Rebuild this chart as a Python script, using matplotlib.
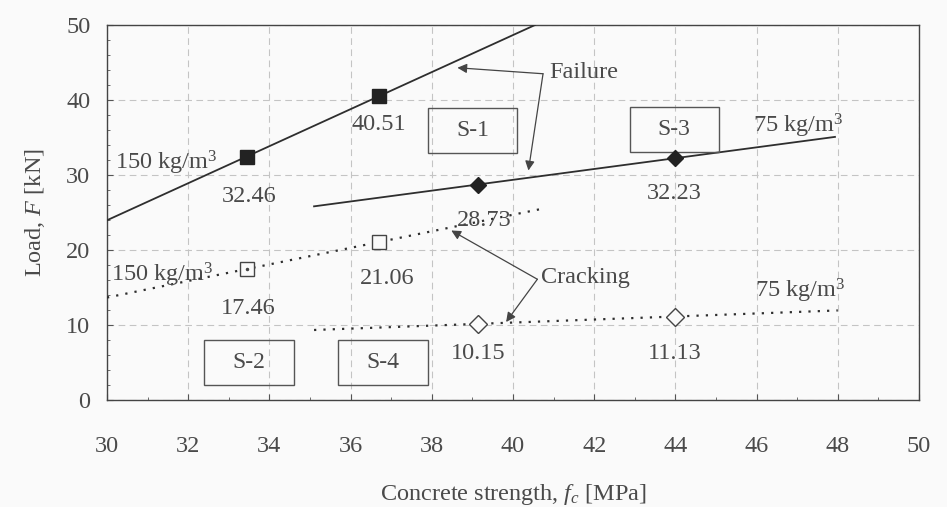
import numpy as np
import matplotlib
matplotlib.use("Agg")
import matplotlib.pyplot as plt
from matplotlib.patches import Rectangle

# Concrete strength (MPa) and measured loads (kN)
fc_150 = [33.44, 36.70]
fail_150 = [32.46, 40.51]
crack_150 = [17.46, 21.06]

fc_75 = [39.13, 43.98]
fail_75 = [28.73, 32.23]
crack_75 = [10.15, 11.13]

x_ticks = [30, 32, 34, 36, 38, 40, 42, 44, 46, 48, 50]
y_ticks = [0, 10, 20, 30, 40, 50]

plt.rcParams["font.family"] = ["Liberation Serif", "DejaVu Serif"]
plt.rcParams["mathtext.fontset"] = "custom"
plt.rcParams["mathtext.rm"] = "Liberation Serif"
plt.rcParams["mathtext.it"] = "Liberation Serif:italic"

TXT = "#4a4a4a"
LINE = "#2e2e2e"
BG = "#fafafa"
FS = 17.5

fig = plt.figure(figsize=(9.47, 5.07), dpi=100, facecolor=BG)
ax = fig.add_axes([107 / 947, 1 - 400 / 507, 812 / 947, 375 / 507])
ax.set_facecolor(BG)
ax.set_xlim(30, 50)
ax.set_ylim(0, 50)


def trend(xs, ys, x0, x1):
    k, b = np.polyfit(xs, ys, 1)
    xx = np.array([x0, x1])
    return xx, k * xx + b


# Failure trend lines
xx, yy = trend(fc_150, fail_150, 30, 40.54)
ax.plot(xx, yy, color=LINE, lw=1.3, zorder=3)
xx, yy = trend(fc_75, fail_75, 35.1, 47.93)
ax.plot(xx, yy, color=LINE, lw=1.3, zorder=3)

# Cracking trend lines
dots = (0, (1, 3.2))
xx, yy = trend(fc_150, crack_150, 30, 40.67)
ax.plot(xx, yy, color=LINE, lw=1.6, linestyle=dots, zorder=3)
xx, yy = trend(fc_75, crack_75, 35.1, 48)
ax.plot(xx, yy, color=LINE, lw=1.6, linestyle=dots, zorder=3)

# Markers
ax.plot(fc_150, fail_150, ls="none", marker="s", ms=10.5, color="#222222", zorder=4)
ax.plot(fc_75, fail_75, ls="none", marker="D", ms=8, color="#222222", zorder=4)
ax.plot(fc_150, crack_150, ls="none", marker="s", ms=10, mfc=BG,
        mec="#444444", mew=1.0, zorder=4)
ax.plot(fc_150[:1], crack_150[:1], ls="none", marker=".", ms=3, color="#444444", zorder=5)
ax.plot(fc_75, crack_75, ls="none", marker="D", ms=9, mfc=BG,
        mec="#444444", mew=1.0, zorder=4)

# Value labels
kw = dict(ha="center", va="center", fontsize=FS, color=TXT)
ax.text(fc_150[0] + 0.05, fail_150[0] - 5.3, f"{fail_150[0]:.2f}", **kw)
ax.text(fc_150[1], fail_150[1] - 3.8, f"{fail_150[1]:.2f}", **kw)
ax.text(fc_75[0] + 0.15, fail_75[0] - 4.8, f"{fail_75[0]:.2f}", **kw)
ax.text(fc_75[1], fail_75[1] - 4.7, f"{fail_75[1]:.2f}", **kw)
ax.text(fc_150[0] + 0.05, crack_150[0] - 5.2, f"{crack_150[0]:.2f}", **kw)
ax.text(fc_150[1] + 0.2, crack_150[1] - 4.8, f"{crack_150[1]:.2f}", **kw)
ax.text(fc_75[0], crack_75[0] - 4.0, f"{crack_75[0]:.2f}", **kw)
ax.text(fc_75[1], crack_75[1] - 4.9, f"{crack_75[1]:.2f}", **kw)

# Fibre dosage labels
ax.text(30.2, 31.6, r"150 kg/m$^3$", ha="left", va="center", fontsize=FS, color=TXT)
ax.text(45.9, 36.6, r"75 kg/m$^3$", ha="left", va="center", fontsize=FS, color=TXT)
ax.text(30.1, 16.7, r"150 kg/m$^3$", ha="left", va="center", fontsize=FS, color=TXT)
ax.text(45.95, 14.5, r"75 kg/m$^3$", ha="left", va="center", fontsize=FS, color=TXT)

# Specimen boxes
for name, cx, cy in [("S-1", 39.0, 35.9), ("S-3", 43.97, 36.1),
                     ("S-2", 33.5, 5.0), ("S-4", 36.8, 5.0)]:
    ax.add_patch(Rectangle((cx - 1.1, cy - 3.0), 2.2, 6.0, fill=False,
                           ec="#555555", lw=1.0, zorder=3))
    ax.text(cx, cy, name, ha="center", va="center", fontsize=FS - 0.5, color=TXT)

# Failure / cracking call-outs
arrow = dict(arrowstyle="-|>", color="#444444", lw=0.9, mutation_scale=14,
             shrinkA=0, shrinkB=0)
ax.text(40.9, 43.6, "Failure", ha="left", va="center", fontsize=FS, color=TXT)
ax.annotate("", xy=(38.63, 44.3), xytext=(40.74, 43.5), arrowprops=arrow)
ax.annotate("", xy=(40.38, 30.6), xytext=(40.74, 43.5), arrowprops=arrow)
ax.text(40.7, 16.4, "Cracking", ha="left", va="center", fontsize=FS, color=TXT)
ax.annotate("", xy=(38.48, 22.6), xytext=(40.6, 16.1), arrowprops=arrow)
ax.annotate("", xy=(39.83, 10.4), xytext=(40.6, 16.1), arrowprops=arrow)

# Axes styling
ax.set_xticks(x_ticks)
ax.set_yticks(y_ticks)
ax.set_xticks(np.arange(30, 51, 1), minor=True)
ax.set_yticks(np.arange(0, 51, 2), minor=True)
ax.tick_params(which="both", direction="in", colors="#555555", labelcolor=TXT,
               labelsize=FS)
ax.tick_params(which="major", length=4)
ax.tick_params(which="minor", length=2)
ax.tick_params(axis="x", which="major", pad=26)
ax.tick_params(axis="y", which="major", pad=12)
ax.grid(True, which="major", color="#c4c4c4", lw=0.8, linestyle=(0, (6, 4)))
ax.set_axisbelow(True)
for s in ax.spines.values():
    s.set_color("#444444")
    s.set_linewidth(1.0)

ax.set_xlabel(r"Concrete strength, $f_c$ [MPa]", fontsize=FS, color=TXT, labelpad=18)
ax.set_ylabel(r"Load, $F$ [kN]", fontsize=FS, color=TXT, labelpad=14)

fig.savefig("out.png", dpi=100, facecolor=fig.get_facecolor())
